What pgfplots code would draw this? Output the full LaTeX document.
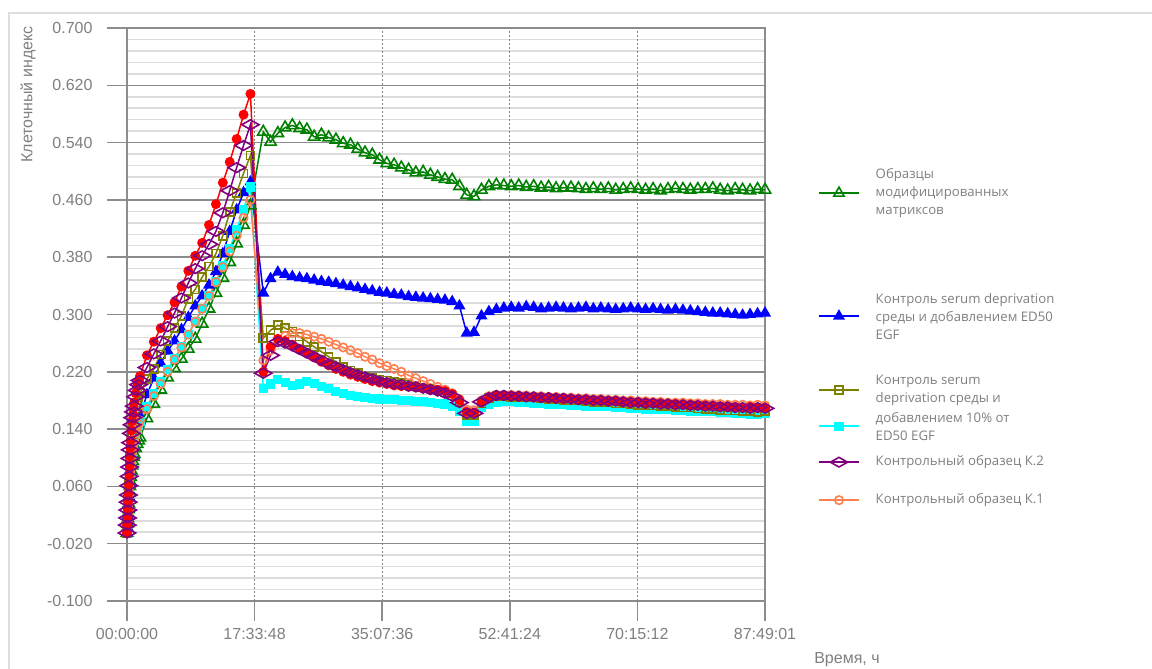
\documentclass[border=0pt]{standalone}
\usepackage{fontspec}
\setmainfont{Liberation Sans}
\newfontfamily\legendfont{Open Sans}
\usepackage{pgfplots}
\usepackage{pgfplotstable}
\pgfplotsset{compat=1.18}

\definecolor{axgray}{HTML}{8C8C8C}
\definecolor{minorgray}{HTML}{DCDCDC}
\definecolor{txtgray}{HTML}{7F7F7F}
\definecolor{framegray}{HTML}{DEDEDE}
\definecolor{cgreen}{HTML}{008000}
\definecolor{cblue}{HTML}{0000FF}
\definecolor{colive}{HTML}{808000}
\definecolor{ccyan}{HTML}{00FFFF}
\definecolor{cpurple}{HTML}{800080}
\definecolor{corange}{HTML}{FF7F50}
\definecolor{cred}{HTML}{FF0000}

% time in hours, cell index per series
\pgfplotstableread{
t green blue olive cyan purple orange red
0 -0.005 -0.005 -0.005 -0.005 -0.005 -0.005 -0.005
0.04 0.002 0.003 0.005 0.003 0.006 0.003 0.006
0.08 0.008 0.011 0.015 0.010 0.016 0.011 0.017
0.12 0.015 0.019 0.024 0.018 0.027 0.019 0.028
0.16 0.022 0.028 0.034 0.026 0.038 0.026 0.039
0.20 0.028 0.036 0.044 0.034 0.048 0.034 0.050
0.25 0.036 0.046 0.055 0.043 0.061 0.044 0.063
0.30 0.044 0.055 0.067 0.052 0.074 0.053 0.076
0.35 0.052 0.065 0.079 0.062 0.087 0.063 0.089
0.40 0.060 0.075 0.091 0.071 0.099 0.072 0.102
0.45 0.067 0.084 0.101 0.079 0.111 0.081 0.114
0.50 0.073 0.091 0.110 0.086 0.121 0.088 0.124
0.60 0.082 0.102 0.123 0.096 0.134 0.098 0.138
0.70 0.089 0.111 0.133 0.105 0.146 0.106 0.151
0.80 0.095 0.118 0.142 0.112 0.156 0.114 0.160
0.90 0.101 0.125 0.150 0.118 0.164 0.120 0.169
1.00 0.105 0.130 0.157 0.124 0.172 0.125 0.177
1.20 0.113 0.140 0.169 0.133 0.185 0.135 0.190
1.40 0.119 0.147 0.177 0.140 0.194 0.142 0.200
1.60 0.124 0.153 0.184 0.145 0.202 0.147 0.207
1.79 0.128 0.158 0.190 0.150 0.208 0.152 0.214
2.74 0.155 0.188 0.210 0.172 0.226 0.168 0.243
3.69 0.175 0.211 0.224 0.190 0.245 0.186 0.262
4.64 0.195 0.232 0.244 0.207 0.263 0.203 0.281
5.59 0.212 0.249 0.263 0.223 0.283 0.220 0.299
6.54 0.225 0.263 0.281 0.239 0.302 0.237 0.317
7.49 0.238 0.279 0.298 0.255 0.323 0.254 0.339
8.44 0.252 0.296 0.322 0.272 0.344 0.272 0.361
9.39 0.266 0.312 0.335 0.290 0.364 0.290 0.382
10.34 0.287 0.326 0.352 0.308 0.382 0.308 0.400
11.29 0.308 0.341 0.367 0.326 0.398 0.326 0.425
12.24 0.330 0.360 0.385 0.346 0.416 0.345 0.454
13.19 0.351 0.385 0.410 0.368 0.442 0.366 0.484
14.14 0.373 0.416 0.443 0.392 0.473 0.388 0.513
15.09 0.399 0.446 0.470 0.418 0.505 0.410 0.545
16.04 0.425 0.470 0.497 0.447 0.536 0.435 0.579
16.99 0.452 0.485 0.522 0.478 0.565 0.460 0.608
18.76 0.555 0.330 0.267 0.197 0.218 0.236 0.220
19.76 0.541 0.350 0.278 0.203 0.243 0.250 0.255
20.76 0.553 0.359 0.285 0.209 0.262 0.262 0.266
21.76 0.561 0.356 0.281 0.205 0.260 0.270 0.263
22.76 0.564 0.353 0.276 0.201 0.256 0.274 0.258
23.76 0.560 0.351 0.269 0.203 0.251 0.274 0.252
24.76 0.558 0.350 0.262 0.206 0.246 0.272 0.246
25.76 0.548 0.348 0.255 0.204 0.241 0.269 0.240
26.76 0.551 0.346 0.248 0.199 0.236 0.266 0.234
27.76 0.547 0.345 0.241 0.197 0.231 0.262 0.229
28.76 0.544 0.343 0.234 0.193 0.227 0.258 0.224
29.76 0.539 0.341 0.227 0.190 0.223 0.254 0.220
30.76 0.537 0.339 0.222 0.187 0.219 0.250 0.216
31.76 0.531 0.337 0.218 0.185 0.216 0.246 0.213
32.76 0.526 0.335 0.213 0.184 0.213 0.241 0.210
33.76 0.523 0.333 0.211 0.183 0.210 0.237 0.207
34.76 0.516 0.331 0.209 0.182 0.207 0.232 0.205
35.76 0.511 0.330 0.208 0.181 0.205 0.228 0.203
36.76 0.509 0.328 0.206 0.181 0.203 0.224 0.201
37.76 0.505 0.327 0.204 0.180 0.202 0.220 0.200
38.76 0.502 0.325 0.202 0.180 0.200 0.215 0.199
39.76 0.498 0.324 0.200 0.179 0.199 0.211 0.198
40.76 0.499 0.323 0.198 0.178 0.197 0.207 0.197
41.76 0.495 0.322 0.196 0.177 0.195 0.203 0.196
42.76 0.492 0.321 0.194 0.176 0.193 0.199 0.195
43.76 0.489 0.320 0.191 0.175 0.190 0.195 0.193
44.76 0.488 0.318 0.187 0.172 0.186 0.190 0.189
45.76 0.479 0.312 0.178 0.165 0.177 0.182 0.180
46.76 0.467 0.274 0.160 0.150 0.162 0.167 0.164
47.76 0.465 0.275 0.160 0.151 0.162 0.166 0.163
48.79 0.474 0.298 0.176 0.170 0.178 0.180 0.177
49.81 0.479 0.304 0.183 0.175 0.184 0.186 0.183
50.84 0.481 0.307 0.186 0.177 0.187 0.188 0.186
51.87 0.480 0.309 0.186 0.178 0.187 0.188 0.186
52.89 0.479 0.310 0.185 0.178 0.186 0.188 0.186
53.92 0.480 0.309 0.185 0.177 0.186 0.187 0.185
54.95 0.478 0.311 0.184 0.177 0.185 0.187 0.185
55.98 0.479 0.310 0.184 0.176 0.185 0.186 0.184
57.00 0.477 0.308 0.183 0.176 0.184 0.186 0.184
58.03 0.478 0.309 0.182 0.175 0.184 0.185 0.183
59.06 0.476 0.310 0.182 0.175 0.183 0.185 0.183
60.08 0.477 0.309 0.181 0.174 0.183 0.184 0.182
61.11 0.477 0.308 0.180 0.173 0.182 0.184 0.182
62.14 0.476 0.309 0.180 0.173 0.181 0.183 0.181
63.17 0.475 0.310 0.179 0.172 0.181 0.183 0.181
64.19 0.476 0.308 0.178 0.172 0.180 0.182 0.180
65.22 0.475 0.309 0.178 0.171 0.180 0.182 0.180
66.25 0.476 0.308 0.177 0.171 0.179 0.181 0.179
67.27 0.474 0.307 0.176 0.170 0.179 0.181 0.179
68.30 0.475 0.308 0.176 0.170 0.178 0.180 0.178
69.33 0.476 0.309 0.175 0.169 0.177 0.180 0.178
70.35 0.475 0.308 0.174 0.169 0.177 0.179 0.177
71.38 0.474 0.307 0.174 0.168 0.176 0.179 0.177
72.41 0.475 0.308 0.173 0.168 0.176 0.178 0.176
73.44 0.473 0.307 0.172 0.167 0.175 0.178 0.176
74.46 0.475 0.306 0.172 0.167 0.175 0.177 0.175
75.49 0.476 0.307 0.171 0.166 0.174 0.177 0.175
76.52 0.475 0.306 0.170 0.166 0.174 0.177 0.174
77.54 0.474 0.305 0.170 0.165 0.173 0.176 0.174
78.57 0.475 0.304 0.169 0.165 0.173 0.176 0.173
79.60 0.475 0.303 0.168 0.164 0.172 0.175 0.173
80.63 0.476 0.302 0.168 0.164 0.172 0.175 0.172
81.65 0.474 0.302 0.167 0.163 0.171 0.175 0.172
82.68 0.473 0.301 0.166 0.163 0.171 0.174 0.171
83.71 0.475 0.300 0.166 0.162 0.170 0.174 0.171
84.73 0.474 0.299 0.165 0.162 0.170 0.174 0.170
85.76 0.473 0.300 0.165 0.161 0.169 0.173 0.171
86.79 0.475 0.301 0.164 0.161 0.170 0.174 0.170
87.82 0.474 0.302 0.165 0.162 0.169 0.173 0.170
}\datatable

\begin{document}
\begin{tikzpicture}
\useasboundingbox (0,0) rectangle (1152pt,669pt);
\draw[framegray, line width=2pt] (9pt,0pt) -- (9pt,656pt) -- (1152pt,656pt);
\begin{axis}[
    at={(127pt,68pt)}, anchor=south west,
    scale only axis, width=638pt, height=573pt,
    xmin=0, xmax=87.8169, ymin=-0.1, ymax=0.7,
    clip=false,
    xtick={0,17.5633,35.1267,52.69,70.2533,87.8169},
    xticklabels={00:00:00,17:33:48,35:07:36,52:41:24,70:15:12,87:49:01},
    ytick={-0.1,-0.02,0.06,0.14,0.22,0.3,0.38,0.46,0.54,0.62,0.7},
    yticklabels={-0.100,-0.020,0.060,0.140,0.220,0.300,0.380,0.460,0.540,0.620,0.700},
    minor y tick num=4,
    ymajorgrids, yminorgrids,
    major grid style={axgray, line width=1.5pt},
    minor grid style={minorgray, line width=1.5pt},
    extra x ticks={17.5633,35.1267,52.69,70.2533},
    extra x tick labels={},
    extra x tick style={xmajorgrids=true, ymajorgrids=false, yminorgrids=false,
        major tick length=0pt,
        major grid style={txtgray, line width=1.2pt, dash pattern=on 1.5pt off 2.5pt}},
    axis line style={axgray, line width=1.5pt},
    tick style={axgray, line width=1.5pt},
    tick align=outside, tick pos=left,
    major tick length=20pt, minor tick length=0pt,
    ticklabel style={font=\fontsize{16}{19}\selectfont, text=txtgray},
    yticklabel style={xshift=-11pt},
    xticklabel style={yshift=-4pt},
    ylabel={Клеточный индекс},
    ylabel style={font=\fontsize{16}{19}\selectfont, text=txtgray,
        at={(axis description cs:-0.155,1.0087)}, anchor=east},
    xlabel={Время, ч},
    xlabel style={font=\fontsize{16}{19}\selectfont, text=txtgray,
        at={(axis description cs:1.1285,-0.103)}, anchor=center},
    legend style={at={(axis description cs:1.0831,0.829)}, anchor=north west,
        draw=none, fill=none, inner sep=0pt, row sep=0pt, column sep=16pt,
        nodes={inner sep=0pt, text depth=, text height=, text=txtgray,
            font=\legendfont\fontsize{13.2}{18}\selectfont}},
    legend cell align=left,
    legend image code/.code={\draw[mark repeat=2,mark phase=2]
        plot coordinates {(0pt,0pt) (20pt,0pt) (40pt,0pt)};},
  ]
\addplot[cgreen, line width=1.5pt, mark=triangle, mark size=6.5pt,
    mark options={solid, line width=1.6pt}, forget plot] table[x=t, y=green] {\datatable};
\addplot[cblue, line width=1.5pt, mark=triangle*, mark size=5.5pt,
    mark options={solid}, forget plot] table[x=t, y=blue] {\datatable};
\addplot[ccyan, line width=1.5pt, mark=square*, mark size=3.8pt,
    mark options={solid}, forget plot] table[x=t, y=cyan] {\datatable};
\addplot[colive, line width=1.5pt, mark=square, mark size=4pt,
    mark options={solid, line width=1.6pt}, forget plot] table[x=t, y=olive] {\datatable};
\addplot[corange, line width=1.5pt, mark=o, mark size=4.2pt,
    mark options={solid, line width=1.6pt}, forget plot] table[x=t, y=orange] {\datatable};
\addplot[cred, line width=1.5pt, mark=*, mark size=4.2pt,
    mark options={solid}, forget plot] table[x=t, y=red] {\datatable};
\addplot[cpurple, line width=1.5pt, mark=diamond, mark size=4.8pt,
    mark options={solid, line width=1.6pt, xscale=2.4}, forget plot] table[x=t, y=purple] {\datatable};

\addlegendimage{cgreen, line width=1.5pt, mark=triangle, mark size=6pt, mark options={solid, line width=1.6pt}}
\addlegendentry{\parbox[c][134pt][c]{220pt}{Образцы\\модифицированных\\матриксов}}
\addlegendimage{cblue, line width=1.5pt, mark=triangle*, mark size=5.5pt, mark options={solid}}
\addlegendentry{\parbox[c][112pt][c]{220pt}{Контроль serum deprivation\\среды и добавлением ED50\\EGF}}
\addlegendimage{colive, line width=1.5pt, mark=square, mark size=4pt, mark options={solid, line width=1.6pt}}
\addlegendentry{\parbox[c][36pt][c]{220pt}{Контроль serum\\deprivation среды и}}
\addlegendimage{ccyan, line width=1.5pt, mark=square*, mark size=3.8pt, mark options={solid}}
\addlegendentry{\parbox[c][36pt][c]{220pt}{добавлением 10\% от\\ED50 EGF}}
\addlegendimage{cpurple, line width=1.5pt, mark=diamond, mark size=4.8pt, mark options={solid, line width=1.6pt, xscale=2.4}}
\addlegendentry{\parbox[c][36pt][c]{220pt}{Контрольный образец К.2}}
\addlegendimage{corange, line width=1.5pt, mark=o, mark size=4.2pt, mark options={solid, line width=1.6pt}}
\addlegendentry{\parbox[c][40pt][c]{220pt}{Контрольный образец К.1}}
\end{axis}
\end{tikzpicture}
\end{document}
